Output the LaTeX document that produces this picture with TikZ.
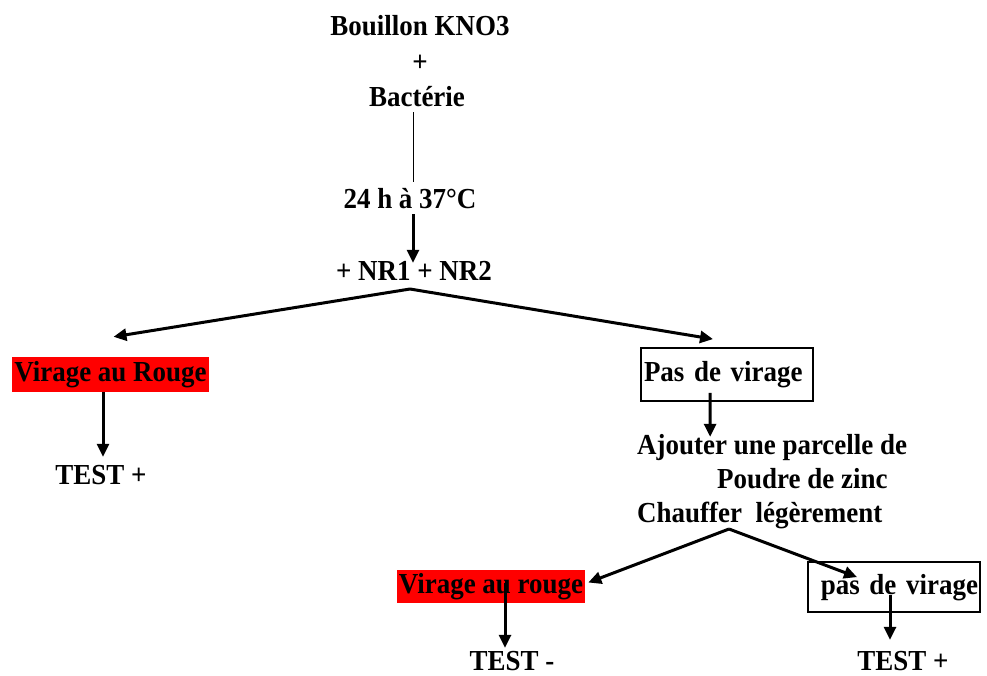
\documentclass[tikz,border=0pt]{standalone}
\usepackage{fontspec}
\setmainfont[FakeStretch=0.93]{Liberation Serif}
\usetikzlibrary{arrows.meta}

\begin{document}
\begin{tikzpicture}[x=1pt, y=-1pt,
        lbl/.style={font=\fontsize{29}{32}\selectfont\bfseries, inner sep=0pt, text height=20pt, text depth=6pt},
        redbox/.style={lbl, fill=red, inner xsep=2pt, inner ysep=4.5pt},
        framebox/.style={lbl, draw, line width=1.8pt, inner xsep=2pt},
        arr/.style={line width=3pt, -{Triangle[length=13pt,width=12pt]}},
        thinline/.style={line width=0.9pt}]

        \useasboundingbox (0,0) rectangle (987,675);

        % top part
        \node[name=bouillon, lbl] at (420, 28) {Bouillon KNO3};
        \node[name=plus, lbl] at (420, 64) {+};
        \node[name=bact, lbl] at (417, 99) {Bactérie};
        \node[name=incub, lbl] at (410, 201) {24 h à 37°C};
        \node[name=nr, lbl] at (414, 273) {+ NR1 + NR2};
        \coordinate (split1) at (410, 289);

        \draw[thinline] ([xshift=-4pt]bact.south) -- ([xshift=3pt, yshift=6pt]incub.north);
        \draw[arr] ([xshift=3pt]incub.south) -- ([xshift=-1pt, yshift=-3pt]nr.north);

        % left branch
        \node[name=rouge1, redbox] at (110.5, 374.5) {Virage au Rouge};
        \node[name=test1, lbl] at (101, 477) {TEST +};
        \draw[arr] (split1) -- ([xshift=3pt, yshift=20pt]rouge1.north);
        \draw[arr] ([xshift=2pt]test1.north |- rouge1.south) -- ([xshift=2pt, yshift=7pt]test1.north);

        % right branch
        \node[name=pasvir, framebox, minimum width=172pt, minimum height=53pt, text width=166pt, align=left] at (727, 374.5) {Pas de virage};
        \draw[arr] (split1) -- ([xshift=-14pt, yshift=8pt]pasvir.north);

        \node[name=ajout, lbl, anchor=west] at (637, 447) {Ajouter une parcelle de};
        \node[name=poudre, lbl, anchor=west] at (717, 481) {Poudre de zinc};
        \node[name=chauffer, lbl, anchor=west] at (637, 515) {Chauffer\ \ légèrement};
        \coordinate (split2) at (729, 529);

        \draw[arr] ([xshift=-17pt, yshift=9pt]pasvir.south) -- ([xshift=-62pt, yshift=-3pt]ajout.north);

        % second level
        \node[name=rouge2, redbox, inner ysep=3.5pt] at (491, 586.5) {Virage au rouge};
        \node[name=pasvir2, framebox, minimum width=172pt, minimum height=50pt, text width=168pt, align=right] at (894, 587) {pas de virage};
        \node[name=test2, lbl] at (512, 663) {TEST -};
        \node[name=test3, lbl] at (903, 663) {TEST +};

        \draw[arr] (split2) -- ([xshift=3pt, yshift=4pt]rouge2.east);
        \draw[arr] (split2) -- ([xshift=-37pt, yshift=-16pt]pasvir2.north);
        \draw[arr] ([xshift=14pt, yshift=4pt]rouge2.center) -- ([xshift=-7pt, yshift=2pt]test2.north);
        \draw[arr] ([xshift=-4pt, yshift=-8pt]pasvir2.center) -- ([xshift=-13pt, yshift=10pt]test3.north);

\end{tikzpicture}
\end{document}
